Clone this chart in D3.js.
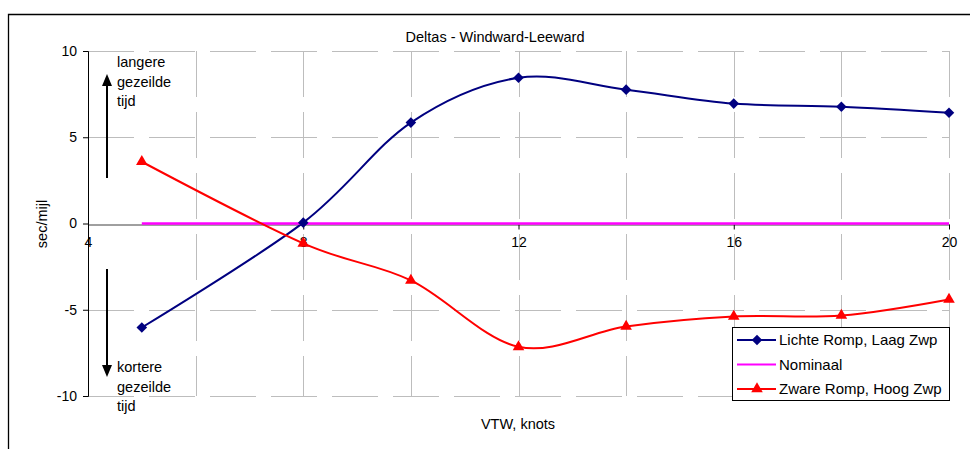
<!DOCTYPE html>
<html><head><meta charset="utf-8">
<script src="https://cdn.jsdelivr.net/npm/d3@7"></script>
<style>
html,body{margin:0;padding:0;background:#fff;}
svg{display:block;font-family:"Liberation Sans",Arial,sans-serif;}
</style></head>
<body><svg id="c" width="970" height="449"></svg>
<script>
const xValues = [5, 8, 10, 12, 14, 16, 18, 20];
const lichteRomp = [-6.03, 0.05, 5.85, 8.45, 7.76, 6.95, 6.77, 6.42];
const nominaal = [0, 0, 0, 0, 0, 0, 0, 0];
const zwareRomp = [3.58, -1.15, -3.3, -7.15, -5.97, -5.39, -5.33, -4.4];
const xTicks = [4, 8, 12, 16, 20];
const xGrid = [6, 8, 10, 12, 14, 16, 18, 20];
const yTicks = [10, 5, 0, -5, -10];
const seriesNames = ["Lichte Romp, Laag Zwp", "Nominaal", "Zware Romp, Hoog Zwp"];
const seriesColors = ["#000080", "#FF00FF", "#FF0000"];

const svg = d3.select("#c");
const x = d3.scaleLinear().domain([4, 20]).range([88, 949]);
const y = d3.scaleLinear().domain([-10, 10]).range([396, 51]);

// outer chart border
svg.append("path").attr("d", "M8.5,449 L8.5,14.5 L970,14.5")
  .attr("fill", "none").attr("stroke", "#000").attr("stroke-width", 1.3);

// gridlines
const grid = svg.append("g").attr("stroke", "#bdbdbd").attr("stroke-width", 1)
  .attr("stroke-dasharray", "46,15");
grid.selectAll("line.h").data(yTicks.filter(v => v !== 0)).join("line")
  .attr("x1", x(4)).attr("x2", x(20))
  .attr("y1", d => Math.round(y(d)) + 0.5).attr("y2", d => Math.round(y(d)) + 0.5);
grid.selectAll("line.v").data(xGrid).join("line")
  .attr("y1", y(10)).attr("y2", y(-10))
  .attr("x1", d => Math.round(x(d)) + 0.5).attr("x2", d => Math.round(x(d)) + 0.5);

// y axis
const yAxis = svg.append("g").attr("transform", `translate(${x(4)},0)`)
  .call(d3.axisLeft(y).tickValues(yTicks).tickFormat(d => String(d)).tickSize(5).tickPadding(6));
yAxis.select(".domain").attr("stroke", "#000");
yAxis.selectAll("text").attr("font-size", 14).attr("fill", "#000")
  .attr("font-family", "Liberation Sans, Arial, sans-serif");

// x axis at y=0
const xAxis = svg.append("g").attr("transform", `translate(0,${Math.round(y(0)) + 0.5})`)
  .call(d3.axisBottom(x).tickValues(xTicks).tickFormat(d => String(d)).tickSize(5).tickSizeOuter(0).tickPadding(8));
xAxis.select(".domain").attr("stroke", "#404040");
xAxis.selectAll("text").attr("font-size", 14).attr("fill", "#000")
  .attr("font-family", "Liberation Sans, Arial, sans-serif");

// title and axis titles
svg.append("text").attr("x", 495).attr("y", 42).attr("text-anchor", "middle")
  .attr("font-size", 14.5).text("Deltas - Windward-Leeward");
svg.append("text").attr("x", 518).attr("y", 429).attr("text-anchor", "middle")
  .attr("font-size", 14.5).text("VTW, knots");
svg.append("text").attr("transform", "translate(47,224) rotate(-90)").attr("text-anchor", "middle")
  .attr("font-size", 14.5).text("sec/mijl");

// annotations
const ann = svg.append("g");
ann.append("line").attr("x1", 107).attr("x2", 107).attr("y1", 178).attr("y2", 84)
  .attr("stroke", "#000").attr("stroke-width", 2);
ann.append("path").attr("d", "M107,74 L102,86 L112,86 Z").attr("fill", "#000");
ann.append("line").attr("x1", 107).attr("x2", 107).attr("y1", 269).attr("y2", 366)
  .attr("stroke", "#000").attr("stroke-width", 2);
ann.append("path").attr("d", "M107,377 L102,365 L112,365 Z").attr("fill", "#000");
const upTxt = ["langere", "gezeilde", "tijd"];
const dnTxt = ["kortere", "gezeilde", "tijd"];
ann.selectAll("text.u").data(upTxt).join("text").attr("x", 117)
  .attr("y", (d, i) => 67 + i * 19.5).attr("font-size", 14.5).text(d => d);
ann.selectAll("text.d").data(dnTxt).join("text").attr("x", 117)
  .attr("y", (d, i) => 372 + i * 19.5).attr("font-size", 14.5).text(d => d);

// series
const allSeries = [lichteRomp, nominaal, zwareRomp];
const curve = d3.curveCardinal.tension(0);
const lineGen = d3.line().x(d => x(d[0])).y(d => y(d[1])).curve(curve);
const straight = d3.line().x(d => x(d[0])).y(d => y(d[1]));
allSeries.forEach((vals, i) => {
  const pts = xValues.map((xv, j) => [xv, vals[j]]);
  svg.append("path").attr("d", (i === 1 ? straight : lineGen)(pts))
    .attr("fill", "none").attr("stroke", seriesColors[i]).attr("stroke-width", i === 1 ? 2.5 : 2);
});
const diamond = d3.symbol().type(d3.symbolSquare).size(56);
const tri = d3.symbol().type(d3.symbolTriangle).size(58);
function marker(g, type, cx, cy, color) {
  if (type === 0) {
    g.append("path").attr("d", diamond()).attr("fill", color)
      .attr("transform", `translate(${cx},${cy}) rotate(45)`);
  } else if (type === 2) {
    g.append("path").attr("d", tri()).attr("fill", color)
      .attr("transform", `translate(${cx},${cy})`);
  }
}
const mk = svg.append("g");
xValues.forEach((xv, j) => marker(mk, 2, x(xv), y(zwareRomp[j]), seriesColors[2]));
xValues.forEach((xv, j) => marker(mk, 0, x(xv), y(lichteRomp[j]), seriesColors[0]));

// legend
const lg = svg.append("g");
lg.append("rect").attr("x", 732.5).attr("y", 327.5).attr("width", 217).attr("height", 73)
  .attr("fill", "#fff").attr("stroke", "#000").attr("stroke-width", 1);
seriesNames.forEach((name, i) => {
  const cy = 340 + i * 24.5;
  lg.append("line").attr("x1", 737).attr("x2", 776).attr("y1", cy).attr("y2", cy)
    .attr("stroke", seriesColors[i]).attr("stroke-width", 2);
  marker(lg, i, 757, cy, seriesColors[i]);
  lg.append("text").attr("x", 779).attr("y", cy + 5).attr("font-size", 15).text(name);
});
</script></body></html>
